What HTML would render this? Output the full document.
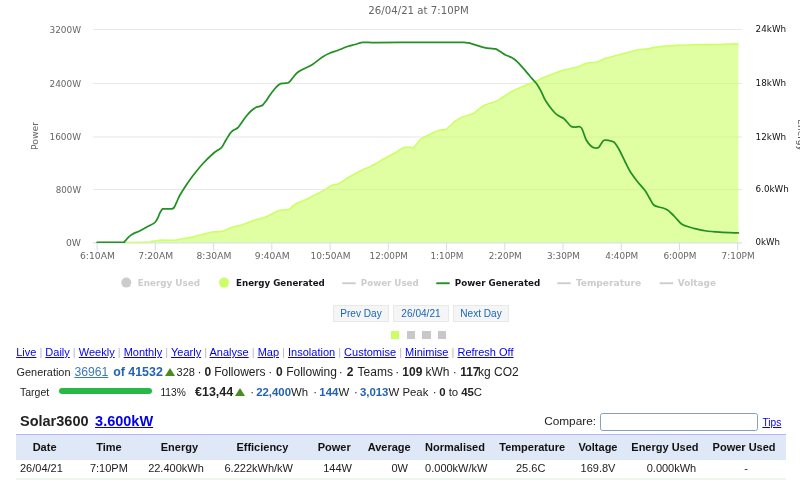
<!DOCTYPE html>
<html><head><meta charset="utf-8"><title>Solar3600</title>
<style>
html,body{margin:0;padding:0;background:#fff;}
body{width:800px;height:492px;position:relative;overflow:hidden;font-family:"Liberation Sans",sans-serif;color:#222;}
.abs{position:absolute;white-space:nowrap;}
.row{position:absolute;white-space:nowrap;}
.c{display:inline-block;white-space:nowrap;vertical-align:baseline;}
a{color:#0000ee;text-decoration:underline;}
.btn{position:absolute;top:304.5px;height:15px;width:54px;border:1px solid #e8e8e8;background:#f5f5f5;color:#1866bb;font-size:10.1px;line-height:15px;text-align:center;}
.sq{position:absolute;top:331.2px;width:8.3px;height:8px;background:#c8c8c8;}
b{font-weight:bold;}
.bl{color:#2463b0;}
.sep{color:#b8b8c0;}
.tri{display:inline-block;width:0;height:0;border-left:5px solid transparent;border-right:5px solid transparent;border-bottom:8.2px solid #4a8c1e;vertical-align:baseline;}
table{border-collapse:collapse;position:absolute;left:16px;top:434px;width:770.3px;font-size:11px;table-layout:fixed;}
th{color:#111;background:#dfe8f7;height:25.5px;padding:0 0 1.5px 0;font-weight:bold;text-align:center;border-top:1.5px solid #b4b6f4;box-sizing:border-box;line-height:14px;}
td{height:16.8px;padding:0 0 1.2px 0;text-align:center;border-bottom:2px solid #ecf8ea;line-height:14px;box-sizing:content-box;}
</style></head><body>
<svg width="800" height="300" viewBox="0 0 800 300" style="position:absolute;left:0;top:0" font-family="'DejaVu Sans', sans-serif">
<rect x="93" y="29.00" width="649" height="1" fill="#e8e8e8"/>
<rect x="93" y="83.00" width="649" height="1" fill="#e8e8e8"/>
<rect x="93" y="136.50" width="649" height="1" fill="#e8e8e8"/>
<rect x="93" y="189.00" width="649" height="1" fill="#e8e8e8"/>
<rect x="93" y="242.4" width="649" height="1" fill="#ccd6eb"/>
<rect x="96.6" y="243" width="1" height="7.5" fill="#d4dcf0"/>
<rect x="154.8" y="243" width="1" height="7.5" fill="#d4dcf0"/>
<rect x="213.1" y="243" width="1" height="7.5" fill="#d4dcf0"/>
<rect x="271.3" y="243" width="1" height="7.5" fill="#d4dcf0"/>
<rect x="329.6" y="243" width="1" height="7.5" fill="#d4dcf0"/>
<rect x="387.8" y="243" width="1" height="7.5" fill="#d4dcf0"/>
<rect x="446.0" y="243" width="1" height="7.5" fill="#d4dcf0"/>
<rect x="504.3" y="243" width="1" height="7.5" fill="#d4dcf0"/>
<rect x="562.5" y="243" width="1" height="7.5" fill="#d4dcf0"/>
<rect x="620.8" y="243" width="1" height="7.5" fill="#d4dcf0"/>
<rect x="679.0" y="243" width="1" height="7.5" fill="#d4dcf0"/>
<rect x="737.2" y="243" width="1" height="7.5" fill="#d4dcf0"/>
<defs><clipPath id="plot"><rect x="93" y="20" width="650" height="222.9"/></clipPath></defs>
<g clip-path="url(#plot)">
<path d="M97.50 242.50 C105.42 242.47 135.92 242.50 145.00 242.30 C154.08 242.10 149.50 241.65 152.00 241.30 C154.50 240.95 156.58 240.37 160.00 240.20 C163.42 240.03 169.17 240.45 172.50 240.30 C175.83 240.15 176.67 239.85 180.00 239.30 C183.33 238.75 188.67 237.83 192.50 237.00 C196.33 236.17 199.67 235.13 203.00 234.30 C206.33 233.47 209.50 232.47 212.50 232.00 C215.50 231.53 218.92 231.78 221.00 231.50 C223.08 231.22 223.50 230.88 225.00 230.30 C226.50 229.72 228.33 228.63 230.00 228.00 C231.67 227.37 233.33 226.92 235.00 226.50 C236.67 226.08 238.00 226.08 240.00 225.50 C242.00 224.92 244.50 223.92 247.00 223.00 C249.50 222.08 252.83 220.72 255.00 220.00 C257.17 219.28 258.33 219.15 260.00 218.70 C261.67 218.25 263.33 217.92 265.00 217.30 C266.67 216.68 268.33 215.83 270.00 215.00 C271.67 214.17 273.33 213.10 275.00 212.30 C276.67 211.50 277.71 210.67 280.00 210.20 C282.29 209.73 286.58 210.20 288.75 209.50 C290.92 208.80 291.54 207.08 293.00 206.00 C294.46 204.92 295.50 204.00 297.50 203.00 C299.50 202.00 302.42 201.17 305.00 200.00 C307.58 198.83 310.08 197.46 313.00 196.00 C315.92 194.54 320.17 192.53 322.50 191.25 C324.83 189.97 325.54 189.26 327.00 188.30 C328.46 187.34 329.29 186.26 331.25 185.50 C333.21 184.74 336.79 184.50 338.75 183.75 C340.71 183.00 341.54 181.96 343.00 181.00 C344.46 180.04 345.33 179.28 347.50 178.00 C349.67 176.72 353.08 174.84 356.00 173.30 C358.92 171.76 362.46 169.93 365.00 168.75 C367.54 167.57 369.25 167.21 371.25 166.25 C373.25 165.29 375.12 164.12 377.00 163.00 C378.88 161.88 380.58 160.62 382.50 159.50 C384.42 158.38 386.42 157.38 388.50 156.30 C390.58 155.22 393.17 154.05 395.00 153.00 C396.83 151.95 398.04 150.93 399.50 150.00 C400.96 149.07 402.50 147.85 403.75 147.40 C405.00 146.95 405.88 147.30 407.00 147.30 C408.12 147.30 409.38 147.37 410.50 147.40 C411.62 147.43 412.58 148.23 413.75 147.50 C414.92 146.77 416.38 144.33 417.50 143.00 C418.62 141.67 419.55 140.43 420.50 139.50 C421.45 138.57 422.20 137.98 423.20 137.40 C424.20 136.82 425.37 136.52 426.50 136.00 C427.63 135.48 428.47 135.03 430.00 134.30 C431.53 133.57 433.97 132.30 435.70 131.60 C437.43 130.90 438.70 130.47 440.40 130.10 C442.10 129.73 444.22 130.17 445.90 129.40 C447.58 128.63 448.98 126.86 450.50 125.50 C452.02 124.14 453.00 122.67 455.00 121.25 C457.00 119.83 459.58 118.25 462.50 117.00 C465.42 115.75 469.83 115.00 472.50 113.75 C475.17 112.50 476.42 110.96 478.50 109.50 C480.58 108.04 482.04 106.38 485.00 105.00 C487.96 103.62 493.25 102.58 496.25 101.25 C499.25 99.92 500.71 98.46 503.00 97.00 C505.29 95.54 507.58 93.87 510.00 92.50 C512.42 91.13 515.00 89.97 517.50 88.80 C520.00 87.63 521.88 86.80 525.00 85.50 C528.12 84.20 533.25 82.28 536.25 81.00 C539.25 79.72 540.71 78.80 543.00 77.80 C545.29 76.80 546.75 76.22 550.00 75.00 C553.25 73.78 559.17 71.53 562.50 70.50 C565.83 69.47 567.50 69.38 570.00 68.80 C572.50 68.22 575.42 67.63 577.50 67.00 C579.58 66.37 580.83 65.67 582.50 65.00 C584.17 64.33 585.00 63.50 587.50 63.00 C590.00 62.50 595.25 62.42 597.50 62.00 C599.75 61.58 599.75 61.08 601.00 60.50 C602.25 59.92 603.08 59.17 605.00 58.50 C606.92 57.83 610.00 57.17 612.50 56.50 C615.00 55.83 617.33 55.20 620.00 54.50 C622.67 53.80 625.58 53.05 628.50 52.30 C631.42 51.55 634.33 50.57 637.50 50.00 C640.67 49.43 644.83 49.30 647.50 48.90 C650.17 48.50 651.42 47.98 653.50 47.60 C655.58 47.22 657.58 46.87 660.00 46.60 C662.42 46.33 665.08 46.20 668.00 46.00 C670.92 45.80 673.00 45.62 677.50 45.40 C682.00 45.18 687.92 44.85 695.00 44.70 C702.08 44.55 714.17 44.62 720.00 44.50 C725.83 44.38 726.95 44.05 730.00 43.95 C733.05 43.85 736.92 43.91 738.30 43.90 L738.3 242.5 L97.5 242.5 Z" fill="#ccff66" fill-opacity="0.6"/>
<path d="M97.50 242.50 C105.42 242.47 135.92 242.50 145.00 242.30 C154.08 242.10 149.50 241.65 152.00 241.30 C154.50 240.95 156.58 240.37 160.00 240.20 C163.42 240.03 169.17 240.45 172.50 240.30 C175.83 240.15 176.67 239.85 180.00 239.30 C183.33 238.75 188.67 237.83 192.50 237.00 C196.33 236.17 199.67 235.13 203.00 234.30 C206.33 233.47 209.50 232.47 212.50 232.00 C215.50 231.53 218.92 231.78 221.00 231.50 C223.08 231.22 223.50 230.88 225.00 230.30 C226.50 229.72 228.33 228.63 230.00 228.00 C231.67 227.37 233.33 226.92 235.00 226.50 C236.67 226.08 238.00 226.08 240.00 225.50 C242.00 224.92 244.50 223.92 247.00 223.00 C249.50 222.08 252.83 220.72 255.00 220.00 C257.17 219.28 258.33 219.15 260.00 218.70 C261.67 218.25 263.33 217.92 265.00 217.30 C266.67 216.68 268.33 215.83 270.00 215.00 C271.67 214.17 273.33 213.10 275.00 212.30 C276.67 211.50 277.71 210.67 280.00 210.20 C282.29 209.73 286.58 210.20 288.75 209.50 C290.92 208.80 291.54 207.08 293.00 206.00 C294.46 204.92 295.50 204.00 297.50 203.00 C299.50 202.00 302.42 201.17 305.00 200.00 C307.58 198.83 310.08 197.46 313.00 196.00 C315.92 194.54 320.17 192.53 322.50 191.25 C324.83 189.97 325.54 189.26 327.00 188.30 C328.46 187.34 329.29 186.26 331.25 185.50 C333.21 184.74 336.79 184.50 338.75 183.75 C340.71 183.00 341.54 181.96 343.00 181.00 C344.46 180.04 345.33 179.28 347.50 178.00 C349.67 176.72 353.08 174.84 356.00 173.30 C358.92 171.76 362.46 169.93 365.00 168.75 C367.54 167.57 369.25 167.21 371.25 166.25 C373.25 165.29 375.12 164.12 377.00 163.00 C378.88 161.88 380.58 160.62 382.50 159.50 C384.42 158.38 386.42 157.38 388.50 156.30 C390.58 155.22 393.17 154.05 395.00 153.00 C396.83 151.95 398.04 150.93 399.50 150.00 C400.96 149.07 402.50 147.85 403.75 147.40 C405.00 146.95 405.88 147.30 407.00 147.30 C408.12 147.30 409.38 147.37 410.50 147.40 C411.62 147.43 412.58 148.23 413.75 147.50 C414.92 146.77 416.38 144.33 417.50 143.00 C418.62 141.67 419.55 140.43 420.50 139.50 C421.45 138.57 422.20 137.98 423.20 137.40 C424.20 136.82 425.37 136.52 426.50 136.00 C427.63 135.48 428.47 135.03 430.00 134.30 C431.53 133.57 433.97 132.30 435.70 131.60 C437.43 130.90 438.70 130.47 440.40 130.10 C442.10 129.73 444.22 130.17 445.90 129.40 C447.58 128.63 448.98 126.86 450.50 125.50 C452.02 124.14 453.00 122.67 455.00 121.25 C457.00 119.83 459.58 118.25 462.50 117.00 C465.42 115.75 469.83 115.00 472.50 113.75 C475.17 112.50 476.42 110.96 478.50 109.50 C480.58 108.04 482.04 106.38 485.00 105.00 C487.96 103.62 493.25 102.58 496.25 101.25 C499.25 99.92 500.71 98.46 503.00 97.00 C505.29 95.54 507.58 93.87 510.00 92.50 C512.42 91.13 515.00 89.97 517.50 88.80 C520.00 87.63 521.88 86.80 525.00 85.50 C528.12 84.20 533.25 82.28 536.25 81.00 C539.25 79.72 540.71 78.80 543.00 77.80 C545.29 76.80 546.75 76.22 550.00 75.00 C553.25 73.78 559.17 71.53 562.50 70.50 C565.83 69.47 567.50 69.38 570.00 68.80 C572.50 68.22 575.42 67.63 577.50 67.00 C579.58 66.37 580.83 65.67 582.50 65.00 C584.17 64.33 585.00 63.50 587.50 63.00 C590.00 62.50 595.25 62.42 597.50 62.00 C599.75 61.58 599.75 61.08 601.00 60.50 C602.25 59.92 603.08 59.17 605.00 58.50 C606.92 57.83 610.00 57.17 612.50 56.50 C615.00 55.83 617.33 55.20 620.00 54.50 C622.67 53.80 625.58 53.05 628.50 52.30 C631.42 51.55 634.33 50.57 637.50 50.00 C640.67 49.43 644.83 49.30 647.50 48.90 C650.17 48.50 651.42 47.98 653.50 47.60 C655.58 47.22 657.58 46.87 660.00 46.60 C662.42 46.33 665.08 46.20 668.00 46.00 C670.92 45.80 673.00 45.62 677.50 45.40 C682.00 45.18 687.92 44.85 695.00 44.70 C702.08 44.55 714.17 44.62 720.00 44.50 C725.83 44.38 726.95 44.05 730.00 43.95 C733.05 43.85 736.92 43.91 738.30 43.90" fill="none" stroke="#ccff66" stroke-width="1.6" stroke-linejoin="round"/>
<path d="M97.10 242.30 C99.25 242.30 105.65 242.30 110.00 242.30 C114.35 242.30 120.78 242.42 123.20 242.30 C125.62 242.18 123.87 242.18 124.50 241.60 C125.13 241.02 126.03 239.80 127.00 238.80 C127.97 237.80 129.13 236.50 130.30 235.60 C131.47 234.70 132.47 234.17 134.00 233.40 C135.53 232.63 137.23 232.13 139.50 231.00 C141.77 229.87 145.23 227.87 147.60 226.60 C149.97 225.33 152.27 224.37 153.70 223.40 C155.13 222.43 155.48 221.78 156.20 220.80 C156.92 219.82 157.40 218.77 158.00 217.50 C158.60 216.23 159.25 214.37 159.80 213.20 C160.35 212.03 160.80 211.22 161.30 210.50 C161.80 209.78 162.18 209.18 162.80 208.90 C163.42 208.62 164.13 208.82 165.00 208.80 C165.87 208.78 167.08 208.80 168.00 208.80 C168.92 208.80 169.83 208.78 170.50 208.80 C171.17 208.82 171.42 209.10 172.00 208.90 C172.58 208.70 173.37 208.42 174.00 207.60 C174.63 206.78 175.20 205.27 175.80 204.00 C176.40 202.73 176.90 201.50 177.60 200.00 C178.30 198.50 178.60 197.42 180.00 195.00 C181.40 192.58 183.92 188.62 186.00 185.50 C188.08 182.38 189.67 179.92 192.50 176.25 C195.33 172.58 199.46 167.38 203.00 163.50 C206.54 159.62 211.25 155.25 213.75 153.00 C216.25 150.75 216.62 151.00 218.00 150.00 C219.38 149.00 220.67 148.67 222.00 147.00 C223.33 145.33 224.67 142.25 226.00 140.00 C227.33 137.75 228.83 135.08 230.00 133.50 C231.17 131.92 231.75 131.42 233.00 130.50 C234.25 129.58 236.17 129.17 237.50 128.00 C238.83 126.83 239.54 125.46 241.00 123.50 C242.46 121.54 244.58 118.33 246.25 116.25 C247.92 114.17 249.33 112.49 251.00 111.00 C252.67 109.51 254.83 108.08 256.25 107.30 C257.67 106.52 258.46 106.63 259.50 106.30 C260.54 105.97 261.42 106.18 262.50 105.30 C263.58 104.42 264.75 102.72 266.00 101.00 C267.25 99.28 268.50 97.08 270.00 95.00 C271.50 92.92 273.42 90.28 275.00 88.50 C276.58 86.72 278.00 85.17 279.50 84.30 C281.00 83.43 282.46 83.60 284.00 83.30 C285.54 83.00 287.25 83.47 288.75 82.50 C290.25 81.53 291.54 79.17 293.00 77.50 C294.46 75.83 295.50 74.03 297.50 72.50 C299.50 70.97 302.50 69.63 305.00 68.30 C307.50 66.97 309.58 66.38 312.50 64.50 C315.42 62.62 319.58 58.92 322.50 57.00 C325.42 55.08 327.50 54.08 330.00 53.00 C332.50 51.92 334.58 51.58 337.50 50.50 C340.42 49.42 344.58 47.50 347.50 46.50 C350.42 45.50 352.50 45.18 355.00 44.50 C357.50 43.82 359.17 42.72 362.50 42.40 C365.83 42.08 368.75 42.60 375.00 42.60 C381.25 42.60 390.42 42.45 400.00 42.40 C409.58 42.35 422.50 42.32 432.50 42.30 C442.50 42.28 454.72 42.28 460.00 42.30 C465.28 42.32 462.95 42.32 464.20 42.40 C465.45 42.48 466.32 42.60 467.50 42.80 C468.68 43.00 469.48 43.08 471.30 43.60 C473.12 44.12 476.02 45.20 478.40 45.90 C480.78 46.60 483.58 47.38 485.60 47.80 C487.62 48.22 488.85 48.22 490.50 48.40 C492.15 48.58 493.95 48.42 495.50 48.90 C497.05 49.38 498.13 50.30 499.80 51.30 C501.47 52.30 503.60 53.90 505.50 54.90 C507.40 55.90 509.30 56.23 511.20 57.30 C513.10 58.37 514.77 59.33 516.90 61.30 C519.03 63.27 521.40 66.13 524.00 69.10 C526.60 72.07 530.37 76.62 532.50 79.10 C534.63 81.58 535.38 81.98 536.80 84.00 C538.22 86.02 539.82 88.95 541.00 91.20 C542.18 93.45 543.15 95.95 543.90 97.50 C544.65 99.05 544.48 98.92 545.50 100.50 C546.52 102.08 548.42 104.92 550.00 107.00 C551.58 109.08 553.50 111.50 555.00 113.00 C556.50 114.50 557.54 115.08 559.00 116.00 C560.46 116.92 562.42 117.50 563.75 118.50 C565.08 119.50 565.75 120.67 567.00 122.00 C568.25 123.33 569.92 125.67 571.25 126.50 C572.58 127.33 573.54 126.96 575.00 127.00 C576.46 127.04 578.75 126.25 580.00 126.75 C581.25 127.25 581.46 127.79 582.50 130.00 C583.54 132.21 584.79 137.29 586.25 140.00 C587.71 142.71 589.79 144.92 591.25 146.25 C592.71 147.58 593.79 147.79 595.00 148.00 C596.21 148.21 597.50 148.17 598.50 147.50 C599.50 146.83 600.08 145.20 601.00 144.00 C601.92 142.80 602.67 140.88 604.00 140.30 C605.33 139.72 607.38 140.22 609.00 140.50 C610.62 140.78 612.42 141.08 613.75 142.00 C615.08 142.92 615.96 144.46 617.00 146.00 C618.04 147.54 618.67 148.67 620.00 151.25 C621.33 153.83 623.33 158.17 625.00 161.50 C626.67 164.83 628.00 168.00 630.00 171.25 C632.00 174.50 634.50 177.79 637.00 181.00 C639.50 184.21 642.92 187.67 645.00 190.50 C647.08 193.33 648.04 195.58 649.50 198.00 C650.96 200.42 652.21 203.50 653.75 205.00 C655.29 206.50 657.21 206.50 658.75 207.00 C660.29 207.50 661.54 207.50 663.00 208.00 C664.46 208.50 666.17 209.17 667.50 210.00 C668.83 210.83 669.75 211.83 671.00 213.00 C672.25 214.17 673.29 215.21 675.00 217.00 C676.71 218.79 679.42 222.25 681.25 223.75 C683.08 225.25 684.12 225.29 686.00 226.00 C687.88 226.71 689.33 227.21 692.50 228.00 C695.67 228.79 700.42 230.05 705.00 230.75 C709.58 231.45 714.45 231.84 720.00 232.20 C725.55 232.56 735.25 232.78 738.30 232.90" fill="none" stroke="#229022" stroke-width="1.75" stroke-linejoin="round" stroke-linecap="round"/>
</g>
<text x="368.3" y="13.7" font-size="10.6" fill="#666" textLength="100.4" lengthAdjust="spacingAndGlyphs">26/04/21 at 7:10PM</text>
<text x="49.5" y="32.5" font-size="9.3" fill="#666" textLength="31.5" lengthAdjust="spacingAndGlyphs">3200W</text>
<text x="49.5" y="86.5" font-size="9.3" fill="#666" textLength="31.5" lengthAdjust="spacingAndGlyphs">2400W</text>
<text x="49.5" y="140.0" font-size="9.3" fill="#666" textLength="31.5" lengthAdjust="spacingAndGlyphs">1600W</text>
<text x="55.8" y="192.5" font-size="9.3" fill="#666" textLength="25.2" lengthAdjust="spacingAndGlyphs">800W</text>
<text x="66.0" y="245.6" font-size="9.3" fill="#666" textLength="15.0" lengthAdjust="spacingAndGlyphs">0W</text>
<text x="755.6" y="32.2" font-size="9.3" fill="#111" textLength="30.6" lengthAdjust="spacingAndGlyphs">24kWh</text>
<text x="755.6" y="86.2" font-size="9.3" fill="#111" textLength="30.6" lengthAdjust="spacingAndGlyphs">18kWh</text>
<text x="755.6" y="139.7" font-size="9.3" fill="#111" textLength="30.6" lengthAdjust="spacingAndGlyphs">12kWh</text>
<text x="755.6" y="192.2" font-size="9.3" fill="#111" textLength="33.2" lengthAdjust="spacingAndGlyphs">6.0kWh</text>
<text x="755.6" y="245.3" font-size="9.3" fill="#111" textLength="24.4" lengthAdjust="spacingAndGlyphs">0kWh</text>
<text x="80.0" y="258.8" font-size="9.3" fill="#666" textLength="34.9" lengthAdjust="spacingAndGlyphs">6:10AM</text>
<text x="138.3" y="258.8" font-size="9.3" fill="#666" textLength="34.9" lengthAdjust="spacingAndGlyphs">7:20AM</text>
<text x="196.5" y="258.8" font-size="9.3" fill="#666" textLength="34.9" lengthAdjust="spacingAndGlyphs">8:30AM</text>
<text x="254.8" y="258.8" font-size="9.3" fill="#666" textLength="34.9" lengthAdjust="spacingAndGlyphs">9:40AM</text>
<text x="310.5" y="258.8" font-size="9.3" fill="#666" textLength="40.0" lengthAdjust="spacingAndGlyphs">10:50AM</text>
<text x="369.6" y="258.8" font-size="9.3" fill="#666" textLength="38.2" lengthAdjust="spacingAndGlyphs">12:00PM</text>
<text x="430.4" y="258.8" font-size="9.3" fill="#666" textLength="33.0" lengthAdjust="spacingAndGlyphs">1:10PM</text>
<text x="488.7" y="258.8" font-size="9.3" fill="#666" textLength="33.0" lengthAdjust="spacingAndGlyphs">2:20PM</text>
<text x="546.9" y="258.8" font-size="9.3" fill="#666" textLength="33.0" lengthAdjust="spacingAndGlyphs">3:30PM</text>
<text x="605.2" y="258.8" font-size="9.3" fill="#666" textLength="33.0" lengthAdjust="spacingAndGlyphs">4:40PM</text>
<text x="663.4" y="258.8" font-size="9.3" fill="#666" textLength="33.0" lengthAdjust="spacingAndGlyphs">6:00PM</text>
<text x="721.6" y="258.8" font-size="9.3" fill="#666" textLength="33.0" lengthAdjust="spacingAndGlyphs">7:10PM</text>
<text transform="translate(38.3,136) rotate(-90)" text-anchor="middle" font-size="9.3" fill="#666">Power</text>
<text transform="translate(798.4,119.3) rotate(90)" font-size="9.3" fill="#555" textLength="31.5" lengthAdjust="spacingAndGlyphs">Energy</text>
<circle cx="126.3" cy="282.6" r="5" fill="#ccc"/>
<text x="137.7" y="286.3" font-family="'DejaVu Sans Condensed', 'DejaVu Sans', sans-serif" font-weight="bold" font-size="9.5" lengthAdjust="spacingAndGlyphs" fill="#ccc" textLength="62.3">Energy Used</text>
<circle cx="224" cy="282.6" r="5" fill="#ccff66"/>
<text x="236" y="286.3" font-family="'DejaVu Sans Condensed', 'DejaVu Sans', sans-serif" font-weight="bold" font-size="9.5" lengthAdjust="spacingAndGlyphs" fill="#151520" textLength="88.8">Energy Generated</text>
<rect x="342.3" y="282.3" width="13.4" height="1.9" fill="#ccc"/>
<text x="360.8" y="286.3" font-family="'DejaVu Sans Condensed', 'DejaVu Sans', sans-serif" font-weight="bold" font-size="9.5" lengthAdjust="spacingAndGlyphs" fill="#ccc" textLength="57.9">Power Used</text>
<rect x="436.3" y="282.3" width="13.4" height="1.9" fill="#229022"/>
<text x="454.8" y="286.3" font-family="'DejaVu Sans Condensed', 'DejaVu Sans', sans-serif" font-weight="bold" font-size="9.5" lengthAdjust="spacingAndGlyphs" fill="#151520" textLength="85.5">Power Generated</text>
<rect x="557.3" y="282.3" width="13.4" height="1.9" fill="#ccc"/>
<text x="575.9" y="286.3" font-family="'DejaVu Sans Condensed', 'DejaVu Sans', sans-serif" font-weight="bold" font-size="9.5" lengthAdjust="spacingAndGlyphs" fill="#ccc" textLength="65.2">Temperature</text>
<rect x="659.7" y="282.3" width="13.4" height="1.9" fill="#ccc"/>
<text x="677.8" y="286.3" font-family="'DejaVu Sans Condensed', 'DejaVu Sans', sans-serif" font-weight="bold" font-size="9.5" lengthAdjust="spacingAndGlyphs" fill="#ccc" textLength="38.2">Voltage</text>
</svg>
<div class="btn" style="left:333px">Prev Day</div>
<div class="btn" style="left:393px">26/04/21</div>
<div class="btn" style="left:453px">Next Day</div>
<div class="sq" style="left:390.8px;background:#ccff66"></div>
<div class="sq" style="left:406.7px"></div>
<div class="sq" style="left:422.3px"></div>
<div class="sq" style="left:437.8px"></div>
<div class="abs" style="left:16.2px;top:346px;font-size:11px;line-height:13px;"><a>Live</a><span class="sep"> | </span><a>Daily</a><span class="sep"> | </span><a>Weekly</a><span class="sep"> | </span><a>Monthly</a><span class="sep"> | </span><a>Yearly</a><span class="sep"> | </span><a>Analyse</a><span class="sep"> | </span><a>Map</a><span class="sep"> | </span><a>Insolation</a><span class="sep"> | </span><a>Customise</a><span class="sep"> | </span><a>Minimise</a><span class="sep"> | </span><a>Refresh Off</a></div>
<div class="row" style="left:0;top:361.5px;font-size:0;height:20px;line-height:20px"><span class="c" style="width:16.60px"></span><span class="c" style="width:57.80px;font-size:12px;font-size:10.9px">Generation</span><span class="c" style="width:38.80px;font-size:12px;font-size:12.2px"><a style="color:#3b79b7">36961</a></span><span class="c" style="width:51.80px;font-size:12px;font-size:12.4px;font-weight:bold;color:#2463b0">of 41532</span><span class="c" style="width:11.60px;font-size:12px;"><span class="tri"></span></span><span class="c" style="width:21.00px;font-size:12px;font-size:11px">328</span><span class="c" style="width:6.80px;font-size:12px;">&middot;</span><span class="c" style="width:9.80px;font-size:12px;font-weight:bold">0</span><span class="c" style="width:54.20px;font-size:12px;">Followers</span><span class="c" style="width:7.70px;font-size:12px;">&middot;</span><span class="c" style="width:10.10px;font-size:12px;font-weight:bold">0</span><span class="c" style="width:52.60px;font-size:12px;">Following</span><span class="c" style="width:8.00px;font-size:12px;">&middot;</span><span class="c" style="width:10.80px;font-size:12px;font-weight:bold">2</span><span class="c" style="width:37.70px;font-size:12px;">Teams</span><span class="c" style="width:7.10px;font-size:12px;">&middot;</span><span class="c" style="width:23.20px;font-size:12px;font-weight:bold">109</span><span class="c" style="width:27.20px;font-size:12px;">kWh</span><span class="c" style="width:7.50px;font-size:12px;">&middot;</span><span class="c" style="width:17.90px;font-size:12px;font-weight:bold">117</span><span class="c" style="width:200.00px;font-size:12px;">kg CO2</span></div>
<div class="row" style="left:0;top:381.8px;font-size:0;height:20px;line-height:20px"><span class="c" style="width:20.00px"></span><span class="c" style="width:140.40px;font-size:11.4px;font-size:10.5px">Target</span><span class="c" style="width:34.60px;font-size:11.4px;font-size:10.2px">113%</span><span class="c" style="width:40.50px;font-size:11.4px;font-size:12.5px;font-weight:bold">&euro;13,44</span><span class="c" style="width:14.70px;font-size:11.4px;"><span class="tri"></span></span><span class="c" style="width:6.00px;font-size:11.4px;">&middot;</span><span class="c" style="width:57.00px;font-size:11.4px;"><b class="bl">22,400</b>Wh</span><span class="c" style="width:6.20px;font-size:11.4px;">&middot;</span><span class="c" style="width:34.60px;font-size:11.4px;"><b class="bl">144</b>W</span><span class="c" style="width:6.00px;font-size:11.4px;">&middot;</span><span class="c" style="width:72.70px;font-size:11.4px;"><b class="bl">3,013</b>W Peak</span><span class="c" style="width:6.50px;font-size:11.4px;">&middot;</span><span class="c" style="width:9.50px;font-size:11.4px;"><b>0</b></span><span class="c" style="width:12.50px;font-size:11.4px;">to</span><span class="c" style="width:200.00px;font-size:11.4px;"><b>45</b>C</span></div>
<div class="abs" style="left:58.5px;top:388.4px;width:93.5px;height:6px;border-radius:3px;background:#27b945;"></div>
<div class="abs" style="left:20px;top:412.5px;font-size:14.5px;line-height:17px;font-weight:bold">Solar3600 <a style="margin-left:2.5px">3.600kW</a></div>
<div class="abs" style="left:544.2px;top:414.4px;font-size:11.8px;line-height:14px;">Compare:</div>
<div class="abs" style="left:600.4px;top:413.2px;width:155.9px;height:16.2px;border:1px solid #8aa0b8;border-radius:2.5px;background:#fff;"></div>
<div class="abs" style="left:762.4px;top:416.5px;font-size:10.2px;line-height:12px;"><a>Tips</a></div>
<table>
<colgroup><col style="width:57.2px"><col style="width:71.4px"><col style="width:69.6px"><col style="width:96.4px"><col style="width:47.3px"><col style="width:62.7px"><col style="width:68.8px"><col style="width:85.7px"><col style="width:46.0px"><col style="width:87.8px"><col style="width:77.4px"></colgroup>
<tr><th style="">Date</th><th style="">Time</th><th style="">Energy</th><th style="">Efficiency</th><th style="">Power</th><th style="">Average</th><th style="">Normalised</th><th style="">Temperature</th><th style="">Voltage</th><th style="">Energy Used</th><th style="padding-right:7px">Power Used</th></tr>
<tr><td style="text-align:left;padding-left:4px">26/04/21</td><td style="">7:10PM</td><td style="text-align:right;padding-right:10.4px">22.400kWh</td><td style="text-align:right;padding-right:17.6px">6.222kWh/kW</td><td style="text-align:right;padding-right:5.9px">144W</td><td style="text-align:right;padding-right:12.6px">0W</td><td style="text-align:right;padding-right:1.9px">0.000kW/kW</td><td style="padding-right:3px">25.6C</td><td style="">169.8V</td><td style="text-align:right;padding-right:12.6px">0.000kWh</td><td style="padding-right:3px">-</td></tr>
</table>
</body></html>
